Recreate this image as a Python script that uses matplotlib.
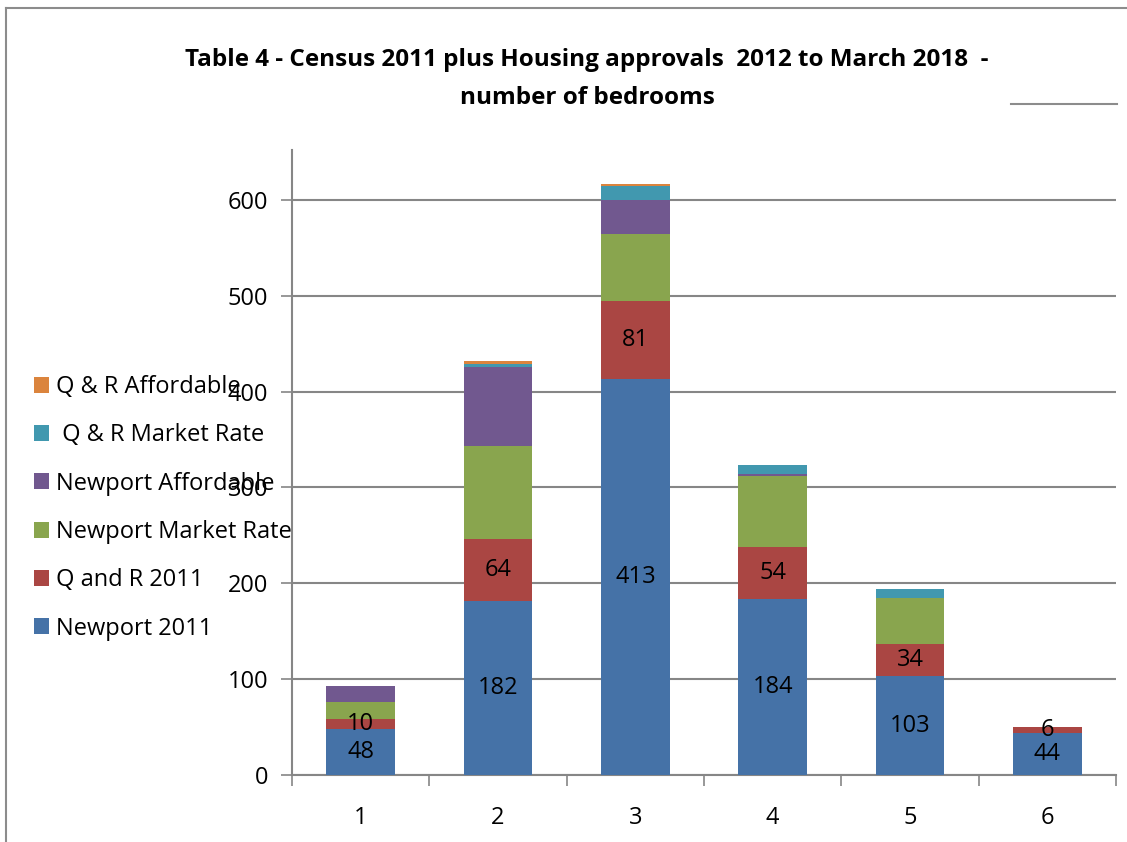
import matplotlib.pyplot as plt
import numpy as np
from matplotlib.patches import Patch
from matplotlib.lines import Line2D

plt.rcParams['font.family'] = ['Open Sans', 'DejaVu Sans']

bedrooms = ['1', '2', '3', '4', '5', '6']
newport_2011 = [48, 182, 413, 184, 103, 44]
qr_2011 = [10, 64, 81, 54, 34, 6]
newport_market = [18, 97, 70, 74, 48, 0]
newport_affordable = [17, 83, 36, 2, 0, 0]
qr_market = [0, 3, 14, 9, 9, 0]
qr_affordable = [0, 3, 3, 0, 0, 0]

series = [
    ('Newport 2011', newport_2011, '#4572A7'),
    ('Q and R 2011', qr_2011, '#AA4643'),
    ('Newport Market Rate', newport_market, '#89A54E'),
    ('Newport Affordable', newport_affordable, '#71588F'),
    (' Q & R Market Rate', qr_market, '#4198AF'),
    ('Q & R Affordable', qr_affordable, '#DB843D'),
]
labelled = {'Newport 2011', 'Q and R 2011'}

W, H = 1127, 842
fig = plt.figure(figsize=(W / 100, H / 100), dpi=100)
ax = fig.add_axes([292 / W, 1 - 775 / H, (1116 - 292) / W, (775 - 150) / H])

# outer chart frame: only its top and left edges fall inside the picture
frame = dict(transform=fig.transFigure, color='#8c8c8c', linewidth=1.5)
fig.lines.append(Line2D([6 / W, 1.0], [1 - 8 / H, 1 - 8 / H], **frame))
fig.lines.append(Line2D([6 / W, 6 / W], [0, 1 - 8 / H], **frame))
fig.lines.append(Line2D([1011 / W, 1117 / W], [1 - 104 / H, 1 - 104 / H], **frame))

x = np.arange(len(bedrooms))
bottom = np.zeros(len(bedrooms))
for name, vals, color in series:
    vals = np.array(vals, dtype=float)
    ax.bar(x, vals, 0.5, bottom=bottom, color=color, label=name, zorder=3)
    if name in labelled:
        for xi, b, v in zip(x, bottom, vals):
            if v > 0:
                ax.text(xi, b + v / 2, str(int(v)), ha='center', va='center',
                        fontsize=17, color='black', zorder=4)
    bottom += vals

ax.set_xlim(-0.5, len(bedrooms) - 0.5)
ax.set_ylim(0, 652)
ax.set_yticks([0, 100, 200, 300, 400, 500, 600])
ax.set_xticks(x)
ax.set_xticklabels(bedrooms)
ax.set_xticks(np.arange(-0.5, len(bedrooms)), minor=True)
ax.tick_params(axis='x', which='major', length=0, labelsize=17, pad=22)
ax.tick_params(axis='x', which='minor', length=8, color='#868686', width=1.2)
ax.tick_params(axis='y', length=8, color='#868686', width=1.2, labelsize=17, pad=9)
ax.grid(axis='y', color='#868686', linewidth=1.5, zorder=0)
for side in ['top', 'right']:
    ax.spines[side].set_visible(False)
for side in ['left', 'bottom']:
    ax.spines[side].set_color('#868686')
    ax.spines[side].set_linewidth(1.5)

fig.text(587 / W, 1 - 60 / H,
         'Table 4 - Census 2011 plus Housing approvals  2012 to March 2018  -',
         ha='center', va='center', fontsize=17.5, fontweight='bold')
fig.text(587 / W, 1 - 98 / H, 'number of bedrooms',
         ha='center', va='center', fontsize=17.5, fontweight='bold')

handles = [Patch(facecolor=c, label=n) for n, _, c in reversed(series)]
fig.legend(handles=handles, loc='upper left', bbox_to_anchor=(34 / W, 1 - 375 / H),
           frameon=False, fontsize=17, handlelength=0.65, handleheight=0.65,
           handletextpad=0.3, labelspacing=1.03, borderaxespad=0, borderpad=0)

fig.savefig('out.png', dpi=100)
